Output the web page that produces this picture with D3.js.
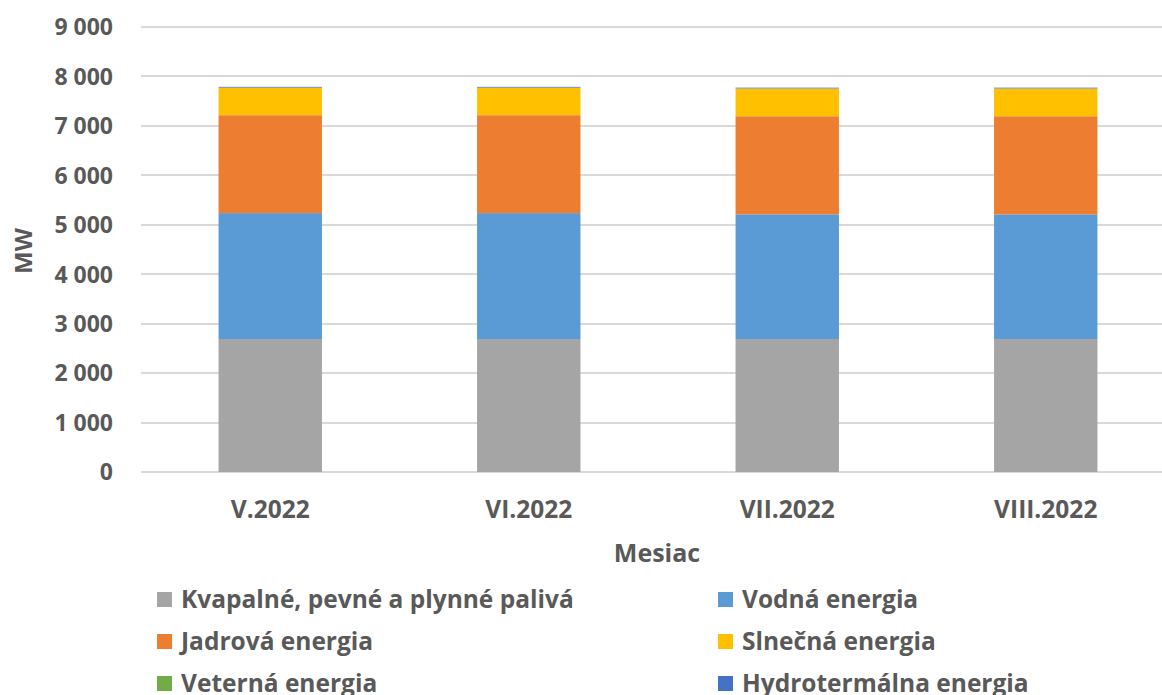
<!DOCTYPE html>
<html>
<head>
<meta charset="utf-8">
<script src="https://cdn.jsdelivr.net/npm/d3@7"></script>
<style>
    body { margin: 0; background: #fff; }
    svg text { fill: #595959; }
</style>
</head>
<body>
<div id="chart"></div>
<script>
// data (MW)
const months = ["V.2022", "VI.2022", "VII.2022", "VIII.2022"];
const seriesNames = [
    "Kvapalné, pevné a plynné palivá",
    "Vodná energia",
    "Jadrová energia",
    "Slnečná energia",
    "Veterná energia",
    "Hydrotermálna energia"
];
const fossil = [2690, 2690, 2690, 2690];
const hydro = [2546, 2546, 2520, 2520];
const nuclear = [1980, 1980, 1985, 1985];
const solar = [555, 555, 560, 560];
const wind = [3, 3, 3, 3];
const hydrothermal = [15, 15, 15, 15];
const yTicks = [0, 1000, 2000, 3000, 4000, 5000, 6000, 7000, 8000, 9000];
const colors = ["#A5A5A5", "#5B9BD5", "#ED7D31", "#FFC000", "#70AD47", "#4472C4"];

const width = 1162, height = 695;
const margin = { top: 27, right: -13, bottom: 223, left: 141 };

const svg = d3.select("#chart").append("svg")
    .attr("width", width)
    .attr("height", height);

const rows = months.map((m, i) => ({
    month: m,
    s0: fossil[i], s1: hydro[i], s2: nuclear[i],
    s3: solar[i], s4: wind[i], s5: hydrothermal[i]
}));
const keys = ["s0", "s1", "s2", "s3", "s4", "s5"];
const stacked = d3.stack().keys(keys)(rows);

const x = d3.scaleBand()
    .domain(months)
    .range([margin.left, width - margin.right])
    .paddingInner(0.6)
    .paddingOuter(0.3);

const y = d3.scaleLinear()
    .domain([0, 9000])
    .range([height - margin.bottom, margin.top]);

// gridlines
svg.append("g")
    .selectAll("line")
    .data(yTicks)
    .enter()
    .append("line")
    .attr("x1", margin.left)
    .attr("x2", width)
    .attr("y1", d => Math.round(y(d)))
    .attr("y2", d => Math.round(y(d)))
    .attr("stroke", "#D9D9D9")
    .attr("stroke-width", 2);

// y tick labels
const fmt = d => d3.format(",")(d).replace(/,/g, " ");
svg.append("g")
    .selectAll("text")
    .data(yTicks)
    .enter()
    .append("text")
    .attr("x", 113)
    .attr("y", d => y(d))
    .attr("dy", "0.36em")
    .attr("text-anchor", "end")
    .style("font", "700 23px 'Open Sans', sans-serif")
    .text(d => fmt(d));

// bars
svg.append("g")
    .selectAll("g")
    .data(stacked)
    .enter()
    .append("g")
    .attr("fill", (d, i) => colors[i])
    .selectAll("rect")
    .data(d => d)
    .enter()
    .append("rect")
    .attr("x", d => x(d.data.month))
    .attr("width", x.bandwidth())
    .attr("y", d => y(d[1]))
    .attr("height", d => y(d[0]) - y(d[1]));

// x labels
svg.append("g")
    .selectAll("text")
    .data(months)
    .enter()
    .append("text")
    .attr("x", d => x(d) + x.bandwidth() / 2)
    .attr("y", 518)
    .attr("text-anchor", "middle")
    .style("font", "700 24.5px 'Open Sans', sans-serif")
    .text(d => d);

// axis titles
svg.append("text")
    .attr("x", 657)
    .attr("y", 562)
    .attr("text-anchor", "middle")
    .style("font", "700 25px 'Open Sans', sans-serif")
    .text("Mesiac");

svg.append("text")
    .attr("transform", "translate(32,251) rotate(-90)")
    .attr("text-anchor", "middle")
    .style("font", "700 24px 'Open Sans', sans-serif")
    .text("MW");

// legend
const legendPos = [[157, 599], [718, 599], [157, 641], [718, 641], [157, 683], [718, 683]];
const legend = svg.append("g")
    .selectAll("g")
    .data(seriesNames)
    .enter()
    .append("g")
    .attr("transform", (d, i) => "translate(" + legendPos[i][0] + "," + legendPos[i][1] + ")");

legend.append("rect")
    .attr("x", 0)
    .attr("y", -7)
    .attr("width", 15)
    .attr("height", 15)
    .attr("fill", (d, i) => colors[i]);

legend.append("text")
    .attr("x", 24)
    .attr("dy", "0.36em")
    .style("font", "700 24.5px 'Open Sans', sans-serif")
    .text(d => d);
</script>
</body>
</html>
